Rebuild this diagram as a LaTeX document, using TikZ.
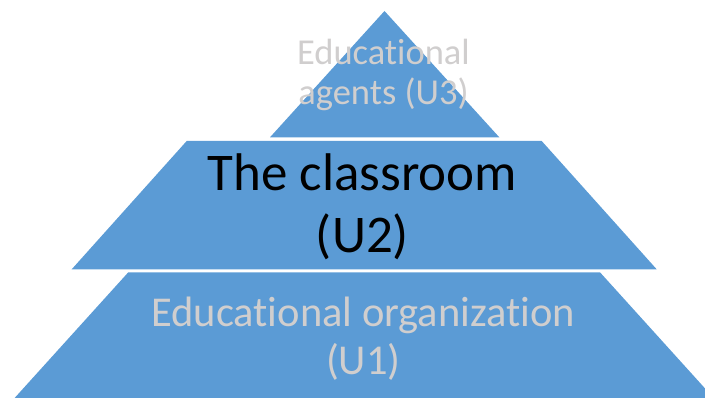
\documentclass[tikz,border=0pt]{standalone}
\usepackage{fontspec}
\setmainfont{Carlito}[Ligatures={NoCommon}]
\definecolor{pyrblue}{HTML}{5B9BD5}
\definecolor{lightgraytext}{HTML}{D0CECE}
\begin{document}
\begin{tikzpicture}[x=1pt,y=-1pt,
  level/.style={fill=pyrblue,draw=none},
  lbl/.style={inner sep=0pt,align=center,anchor=base}]
\useasboundingbox (0,0) rectangle (705,398);
\clip (0,0) rectangle (705,398);
% levels
\fill[level] (384.5,11) -- (270,137.3) -- (499.3,137.3) -- cycle;
\fill[level] (186.7,141) -- (541.7,141) -- (656.7,269.3) -- (71.7,269.3) -- cycle;
\fill[level] (128.3,272.3) -- (600,272.3) -- (715.5,400) -- (12.8,400) -- cycle;
% labels (anchor = baseline of the last line)
\node[lbl,text=lightgraytext,font=\fontsize{36.5}{40}\selectfont] (u3) at (383.5,105) {Educational\\agents (U3)};
\node[lbl,text=black,font=\fontsize{53}{62}\selectfont] (u2) at (362.5,253) {The classroom\\(U2)};
\node[lbl,text=lightgraytext,font=\fontsize{42.5}{48.5}\selectfont] (u1) at (363.3,375) {Educational organization\\(U1)};
\end{tikzpicture}
\end{document}
